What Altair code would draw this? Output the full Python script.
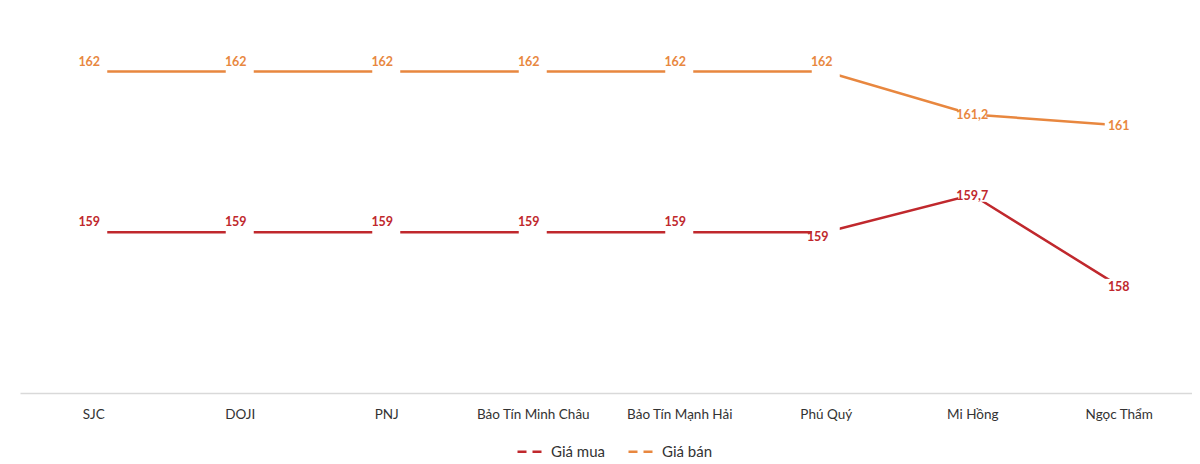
import altair as alt
import pandas as pd

categories = ["SJC", "DOJI", "PNJ", "Bảo Tín Minh Châu", "Bảo Tín Mạnh Hải",
              "Phú Quý", "Mi Hồng", "Ngọc Thẩm"]
series_names = ["Giá mua", "Giá bán"]
buy = [159, 159, 159, 159, 159, 159, 159.7, 158]
sell = [162, 162, 162, 162, 162, 162, 161.2, 161]
# label placement style per point
buy_place = ["above", "above", "above", "above", "above", "below", "center", "center"]
sell_place = ["above", "above", "above", "above", "above", "above", "center", "center"]

colors = ["#C0282D", "#E8873F"]


def fmt(v):
    return str(int(v)) if float(v).is_integer() else str(v).replace(".", ",")


rows = []
for name, vals, places in [(series_names[0], buy, buy_place), (series_names[1], sell, sell_place)]:
    for c, v, p in zip(categories, vals, places):
        rows.append({"cat": c, "series": name, "value": v, "label": fmt(v), "place": p})
df = pd.DataFrame(rows)

FONT = "Lato"

x = alt.X("cat:N", sort=categories, title=None,
          axis=alt.Axis(labelAngle=0, ticks=False, domainColor="#D9D9D9", domainWidth=1.5,
                        labelFont=FONT, labelFontSize=13.5, labelColor="#333333",
                        labelPadding=14, grid=False))
y = alt.Y("value:Q", scale=alt.Scale(domain=[156, 163], nice=False, zero=False), axis=None)
color = alt.Color("series:N",
                  scale=alt.Scale(domain=series_names, range=colors),
                  legend=alt.Legend(title=None, orient="none", direction="horizontal",
                                    legendX=496, legendY=417,
                                    symbolType="stroke", symbolDash=[9, 6],
                                    symbolStrokeWidth=2.5, symbolSize=900,
                                    labelFont=FONT, labelFontSize=15, labelColor="#333333",
                                    columnPadding=18, labelOffset=2))

base = alt.Chart(df)

lines = base.mark_line(strokeWidth=2.5).encode(x=x, y=y, color=color)

boxes = base.mark_point(shape="M-1,-0.5L1,-0.5L1,0.5L-1,0.5Z", filled=True,
                        fill="white", opacity=1, size=784).encode(
    x=alt.X("cat:N", sort=categories), y="value:Q")

def texts(place, dx, dy):
    return base.transform_filter(alt.datum.place == place).mark_text(
        font=FONT, fontSize=12.5, fontWeight="bold", dx=dx, dy=dy
    ).encode(
        x=alt.X("cat:N", sort=categories), y="value:Q",
        text="label:N",
        color=alt.Color("series:N", scale=alt.Scale(domain=series_names, range=colors), legend=None),
    )

chart = alt.layer(
    lines, boxes,
    texts("above", -4, -10),
    texts("center", 0, 1),
    texts("below", -8, 5),
).properties(
    width=1172, height=375,
    autosize=alt.AutoSizeParams(type="none"),
    padding={"left": 12, "top": 10, "right": 0, "bottom": 72},
).configure_view(stroke=None)

chart.save("out.html", embed_options={"renderer": "svg", "actions": False})
